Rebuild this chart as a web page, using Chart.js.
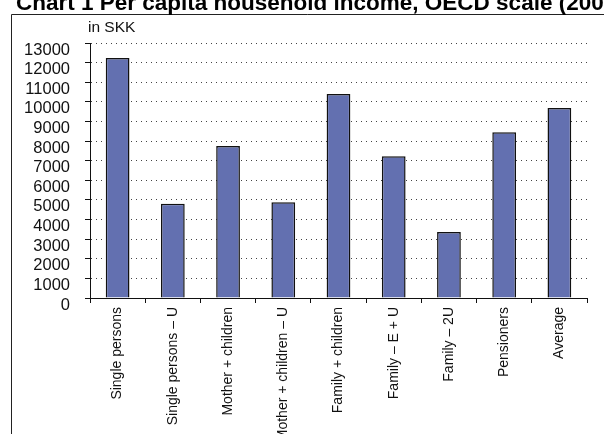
<!DOCTYPE html>
<html>
<head>
<meta charset="utf-8">
<title>Per capita household income</title>
<script src="https://cdn.jsdelivr.net/npm/chart.js@4/dist/chart.umd.min.js"></script>
<style>
    html, body { margin: 0; padding: 0; background: #fff; }
    #wrap { width: 604px; height: 434px; position: relative; }
</style>
</head>
<body>
<div id="wrap"><canvas id="chart"></canvas></div>
<script>
// Household types along the x-axis
const categories = [
    'Single persons',
    'Single persons \u2013 U',
    'Mother + children',
    'Mother + children \u2013 U',
    'Family + children',
    'Family \u2013 E + U',
    'Family \u2013 2U',
    'Pensioners',
    'Average',
];

// Monthly per capita income for each household type (SKK)
const income = [12230, 4800, 7750, 4880, 10400, 7230, 3370, 8450, 9680];

// Y-axis range and step
const yMin = 0;
const yMax = 13000;
const yStep = 1000;

const titleText = 'Chart 1 Per capita household income, OECD scale (2004)';
const unitText = 'in SKK';

const sans = "'Liberation Sans', Arial, Helvetica, sans-serif";

// Draws the outer frame, the heading and the unit label
const framePlugin = {
    id: 'frame',
    beforeDraw(chart) {
        const ctx = chart.ctx;
        ctx.save();
        ctx.fillStyle = '#fff';
        ctx.fillRect(0, 0, chart.width, chart.height);

        ctx.strokeStyle = '#222';
        ctx.lineWidth = 1;
        ctx.beginPath();
        ctx.moveTo(11.5, chart.height);
        ctx.lineTo(11.5, 14.5);
        ctx.lineTo(chart.width, 14.5);
        ctx.stroke();

        ctx.fillStyle = '#000';
        ctx.font = 'bold 22.5px ' + sans;
        ctx.textBaseline = 'alphabetic';
        ctx.textAlign = 'left';
        ctx.fillText(titleText, 16, 10);

        ctx.fillStyle = '#111';
        ctx.font = '15.5px ' + sans;
        ctx.fillText(unitText, 88, 32);
        ctx.restore();
    },
};

const data = {
    labels: categories,
    datasets: [
        {
            label: 'Income',
            data: income,
            backgroundColor: '#6370B0',
            borderColor: '#111',
            borderWidth: 1.5,
            barPercentage: 0.43,
            categoryPercentage: 1,
        },
    ],
};

const config = {
    type: 'bar',
    data: data,
    options: {
        responsive: true,
        maintainAspectRatio: false,
        animation: false,
        layout: {
            padding: { top: 43, right: 17, left: 0, bottom: 0 },
        },
        plugins: {
            legend: { display: false },
            title: { display: false },
            tooltip: { enabled: false },
        },
        scales: {
            x: {
                afterFit(scale) {
                    scale.height = 136;
                },
                grid: {
                    drawOnChartArea: false,
                    color: '#111',
                    tickLength: 5,
                },
                border: { color: '#111', width: 1 },
                ticks: {
                    autoSkip: false,
                    maxRotation: 90,
                    minRotation: 90,
                    padding: 4,
                    color: '#111',
                    font: { family: sans, size: 14 },
                },
            },
            y: {
                min: yMin,
                max: yMax,
                afterFit(scale) {
                    scale.width = 90;
                },
                grid: {
                    color: '#444',
                    lineWidth: 1,
                    tickColor: '#111',
                    tickLength: 5,
                    tickBorderDash: [],
                },
                border: { color: '#111', width: 1, dash: [1, 4] },
                ticks: {
                    stepSize: yStep,
                    autoSkip: false,
                    padding: 15,
                    labelOffset: 7,
                    color: '#111',
                    font: { family: sans, size: 16.5 },
                    callback: (value) => String(value),
                },
            },
        },
    },
    plugins: [framePlugin],
};

new Chart(document.getElementById('chart'), config);
</script>
</body>
</html>
